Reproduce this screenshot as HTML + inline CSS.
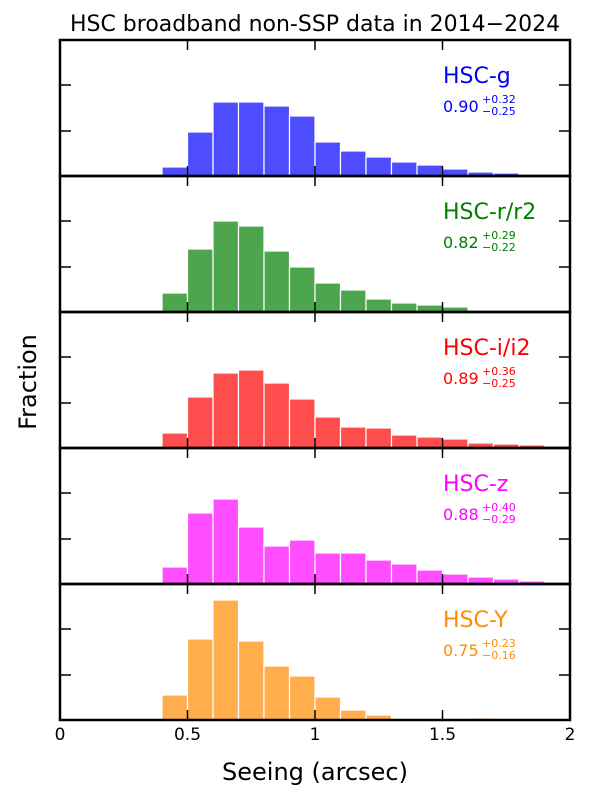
<!DOCTYPE html>
<html><head><meta charset="utf-8"><style>
body{margin:0;background:#fff}
svg text{font-family:"DejaVu Sans","Liberation Sans",sans-serif}
</style></head><body>
<svg id="s" width="600" height="800" xmlns="http://www.w3.org/2000/svg"></svg>
<script>
const s=document.getElementById('s');
let h='<rect width="600" height="800" fill="#fff"/>';
h+='<text x="315" y="31" font-size="22" text-anchor="middle">HSC broadband non-SSP data in 2014−2024</text>';
const X=v=>60+v*255;
const panels=[
 {top:40,col:'#4d4dff',tc:'#0000ff',name:'HSC-g',med:'0.90',p:'+0.32',m:'−0.25',
  b:[167,132,102,102,106,116,142,151,157,162,165,169,172,173,175,175]},
 {top:176,col:'#4da64d',tc:'#008000',name:'HSC-r/r2',med:'0.82',p:'+0.29',m:'−0.22',
  b:[293,249,221,226,251,267,283,290,299,303,305,307]},
 {top:312,col:'#ff4d4d',tc:'#ff0000',name:'HSC-i/i2',med:'0.89',p:'+0.36',m:'−0.25',
  b:[433,397,373,370,383,399,417,427,428,435,437,439,443,444,445,446]},
 {top:448,col:'#ff4dff',tc:'#ff00ff',name:'HSC-z',med:'0.88',p:'+0.40',m:'−0.29',
  b:[567,513,499,527,546,540,553,553,560,564,570,574,577,579,581]},
 {top:584,col:'#ffad4d',tc:'#ff8c00',name:'HSC-Y',med:'0.75',p:'+0.23',m:'−0.16',
  b:[695,639,600,641,666,676,697,710,715,719,720,720,718]},
];
panels.forEach(P=>{
 const bot=P.top+136;
 P.b.forEach((y,i)=>{
  if(y>=bot)return;
  const x0=X(0.4+0.1*i);
  h+=`<rect x="${x0.toFixed(1)}" y="${y}" width="25.5" height="${bot-y}" fill="${P.col}" stroke="#fff" stroke-width="1.2"/>`;
 });
 [91,45].forEach(d=>{const y=bot-d;
  h+=`<line x1="60" y1="${y}" x2="71" y2="${y}" stroke="#000" stroke-width="1.5"/>`;
  h+=`<line x1="559" y1="${y}" x2="570" y2="${y}" stroke="#000" stroke-width="1.5"/>`;});
 [0.5,1,1.5].forEach(v=>{const x=X(v);
  h+=`<line x1="${x}" y1="${bot}" x2="${x}" y2="${bot-10}" stroke="#000" stroke-width="1.5"/>`;
  h+=`<line x1="${x}" y1="${P.top}" x2="${x}" y2="${P.top+10}" stroke="#000" stroke-width="1.5"/>`;});
 h+=`<rect x="60" y="${P.top}" width="510" height="136" fill="none" stroke="#000" stroke-width="2.5"/>`;
 h+=`<text x="443" y="${P.top+43}" font-size="22" fill="${P.tc}">${P.name}</text>`;
 h+=`<text x="443" y="${P.top+72}" font-size="16" fill="${P.tc}">${P.med}</text>`;
 h+=`<text x="482" y="${P.top+63}" font-size="11" fill="${P.tc}">${P.p}</text>`;
 h+=`<text x="482" y="${P.top+75}" font-size="11" fill="${P.tc}">${P.m}</text>`;
});
[['0',0],['0.5',0.5],['1',1],['1.5',1.5],['2',2]].forEach(([t,v])=>{
 h+=`<text x="${X(v)}" y="740" font-size="17" text-anchor="middle">${t}</text>`;});
h+='<text x="315" y="780" font-size="24" text-anchor="middle">Seeing (arcsec)</text>';
h+='<text transform="translate(36,382) rotate(-90)" font-size="24" text-anchor="middle">Fraction</text>';
s.innerHTML=h;
</script>
</body></html>
